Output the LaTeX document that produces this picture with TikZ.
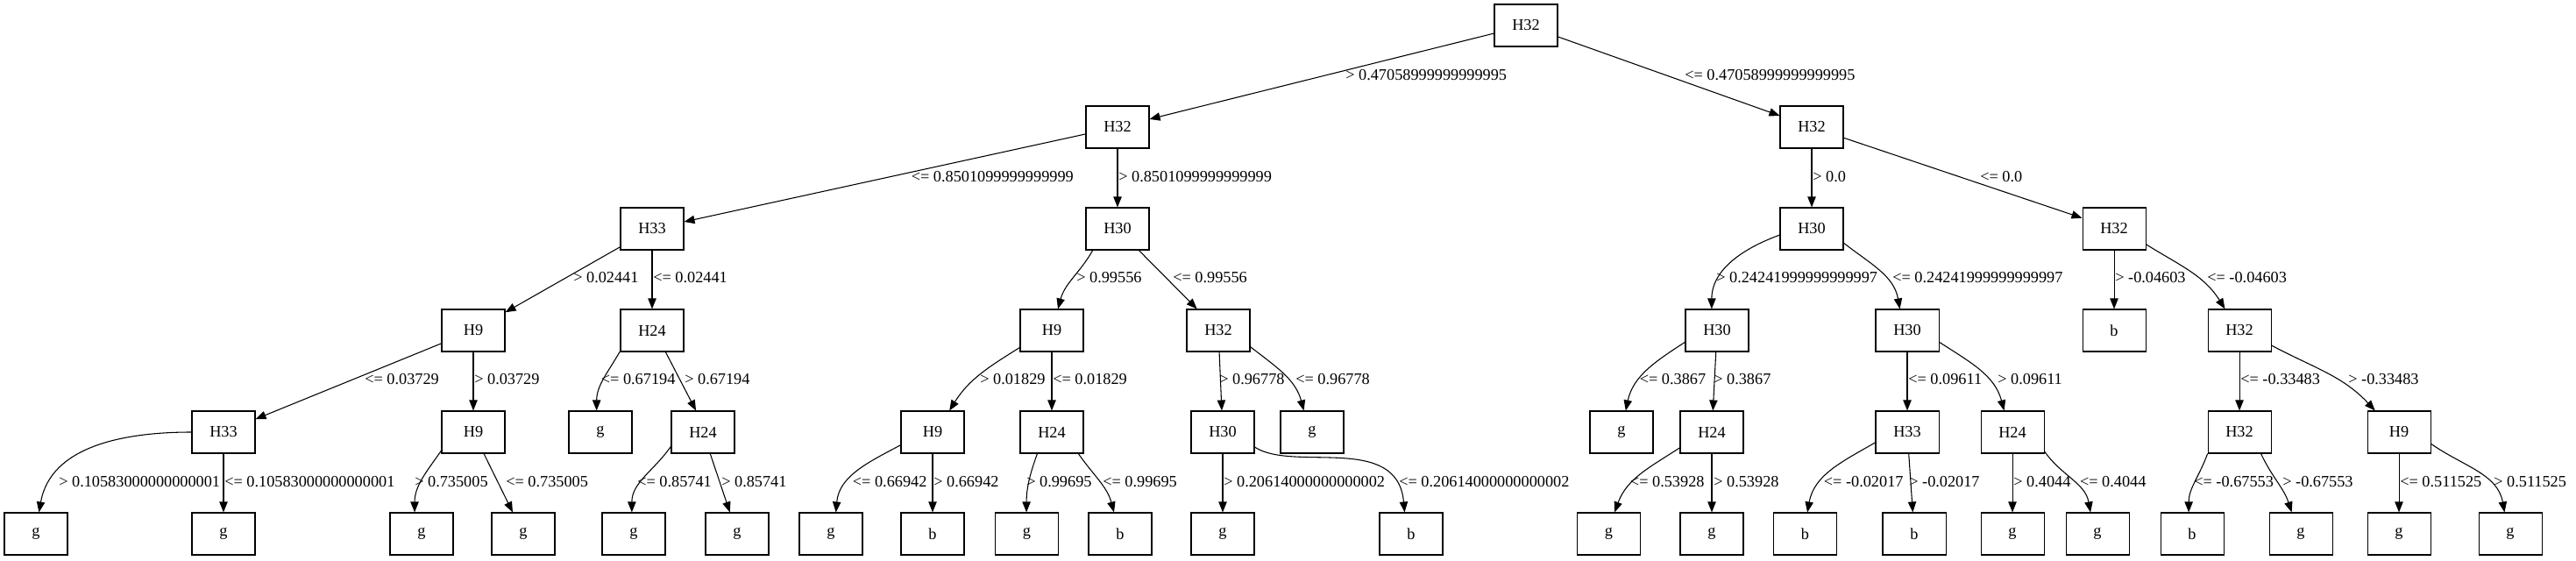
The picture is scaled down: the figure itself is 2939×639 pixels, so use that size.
\documentclass[tikz,border=0pt]{standalone}
\usepackage{fontspec}
\setmainfont{Liberation Serif}
\usepackage{tikz}
\usetikzlibrary{arrows.meta,positioning}

\begin{document}
\begin{tikzpicture}[
    x=0.75pt, y=0.75pt,
    font=\fontsize{13.7}{16}\selectfont,
    box/.style={draw, line width=0.8pt, minimum width=54pt, minimum height=36pt, inner sep=0pt},
    lbl/.style={anchor=base west, inner sep=0pt},
    edge/.style={line width=0.8pt, -{Triangle[length=9pt,width=7pt]}}
]
\useasboundingbox (0,0) rectangle (2939,639);

% level 0 and 1
\node[box] (root) at (1741,610) {H32};
\node[box] (l) at (1275,494) {H32};
\node[box] (r) at (2067,494) {H32};
% level 2
\node[box] (ll) at (744,378) {H33};
\node[box] (lr) at (1275,378) {H30};
\node[box] (rl) at (2067,378) {H30};
\node[box] (rr) at (2412,378) {H32};
% level 3
\node[box] (lll) at (540,262) {H9};
\node[box] (llr) at (744,262) {H24};
\node[box] (lrl) at (1200,262) {H9};
\node[box] (lrr) at (1390,262) {H32};
\node[box] (rll) at (1959,262) {H30};
\node[box] (rlr) at (2176,262) {H30};
\node[box] (rrl) at (2412,262) {b};
\node[box] (rrr) at (2555,262) {H32};
% level 4
\node[box] (llll) at (255,146) {H33};
\node[box] (lllr) at (540,146) {H9};
\node[box] (llrl) at (685,146) {g};
\node[box] (llrr) at (802,146) {H24};
\node[box] (lrll) at (1064,146) {H9};
\node[box] (lrlr) at (1200,146) {H24};
\node[box] (lrrl) at (1395,146) {H30};
\node[box] (lrrr) at (1497,146) {g};
\node[box] (rlll) at (1850,146) {g};
\node[box] (rllr) at (1953,146) {H24};
\node[box] (rlrl) at (2176,146) {H33};
\node[box] (rlrr) at (2296,146) {H24};
\node[box] (rrrl) at (2555,146) {H32};
\node[box] (rrrr) at (2737,146) {H9};
% level 5 (leaves)
\node[box] (lllll) at (41,30) {g};
\node[box] (llllr) at (255,30) {g};
\node[box] (lllrl) at (481,30) {g};
\node[box] (lllrr) at (597,30) {g};
\node[box] (llrrl) at (723,30) {g};
\node[box] (llrrr) at (841,30) {g};
\node[box] (lrlll) at (948,30) {g};
\node[box] (lrllr) at (1064,30) {b};
\node[box] (lrlrl) at (1171.5,30) {g};
\node[box] (lrlrr) at (1278,30) {b};
\node[box] (lrrll) at (1395,30) {g};
\node[box] (lrrlr) at (1610,30) {b};
\node[box] (rllrl) at (1835.5,30) {g};
\node[box] (rllrr) at (1953,30) {g};
\node[box] (rlrll) at (2059.5,30) {b};
\node[box] (rlrlr) at (2184,30) {b};
\node[box] (rlrrl) at (2296,30) {g};
\node[box] (rlrrr) at (2393,30) {g};
\node[box] (rrrll) at (2501,30) {b};
\node[box] (rrrlr) at (2625,30) {g};
\node[box] (rrrrl) at (2737,30) {g};
\node[box] (rrrrr) at (2864,30) {g};

% edge labels
\node[lbl] (l-t) at (1535,547) {> 0.47058999999999995};
\node[lbl] (r-t) at (1922,547) {<= 0.47058999999999995};
\node[lbl] (ll-t) at (1039.5,431) {<= 0.8501099999999999};
\node[lbl] (lr-t) at (1276,431) {> 0.8501099999999999};
\node[lbl] (rl-t) at (2068,431) {> 0.0};
\node[lbl] (rr-t) at (2259,431) {<= 0.0};
\node[lbl] (lll-t) at (654,316) {> 0.02441};
\node[lbl] (llr-t) at (745,316) {<= 0.02441};
\node[lbl] (lrl-t) at (1228,316) {> 0.99556};
\node[lbl] (lrr-t) at (1338,316) {<= 0.99556};
\node[lbl] (rll-t) at (1958,316) {> 0.24241999999999997};
\node[lbl] (rlr-t) at (2159,316) {<= 0.24241999999999997};
\node[lbl] (rrl-t) at (2413,316) {> -0.04603};
\node[lbl] (rrr-t) at (2518,316) {<= -0.04603};
\node[lbl] (llll-t) at (416,200) {<= 0.03729};
\node[lbl] (lllr-t) at (541,200) {> 0.03729};
\node[lbl] (llrl-t) at (685.6,200) {<= 0.67194};
\node[lbl] (llrr-t) at (781,200) {> 0.67194};
\node[lbl] (lrll-t) at (1118,200) {> 0.01829};
\node[lbl] (lrlr-t) at (1201,200) {<= 0.01829};
\node[lbl] (lrrl-t) at (1391,200) {> 0.96778};
\node[lbl] (lrrr-t) at (1478,200) {<= 0.96778};
\node[lbl] (rlll-t) at (1870.5,200) {<= 0.3867};
\node[lbl] (rllr-t) at (1955,200) {> 0.3867};
\node[lbl] (rlrl-t) at (2177,200) {<= 0.09611};
\node[lbl] (rlrr-t) at (2279,200) {> 0.09611};
\node[lbl] (rrrl-t) at (2556,200) {<= -0.33483};
\node[lbl] (rrrr-t) at (2679,200) {> -0.33483};
\node[lbl] (lllll-t) at (67,84) {> 0.10583000000000001};
\node[lbl] (llllr-t) at (256,84) {<= 0.10583000000000001};
\node[lbl] (lllrl-t) at (473,84) {> 0.735005};
\node[lbl] (lllrr-t) at (577,84) {<= 0.735005};
\node[lbl] (llrrl-t) at (727,84) {<= 0.85741};
\node[lbl] (llrrr-t) at (823,84) {> 0.85741};
\node[lbl] (lrlll-t) at (972.6,84) {<= 0.66942};
\node[lbl] (lrllr-t) at (1065,84) {> 0.66942};
\node[lbl] (lrlrl-t) at (1171,84) {> 0.99695};
\node[lbl] (lrlrr-t) at (1258,84) {<= 0.99695};
\node[lbl] (lrrll-t) at (1396,84) {> 0.20614000000000002};
\node[lbl] (lrrlr-t) at (1596,84) {<= 0.20614000000000002};
\node[lbl] (rllrl-t) at (1859.7,84) {<= 0.53928};
\node[lbl] (rllrr-t) at (1955,84) {> 0.53928};
\node[lbl] (rlrll-t) at (2080.6,84) {<= -0.02017};
\node[lbl] (rlrlr-t) at (2178,84) {> -0.02017};
\node[lbl] (rlrrl-t) at (2297,84) {> 0.4044};
\node[lbl] (rlrrr-t) at (2372.7,84) {<= 0.4044};
\node[lbl] (rrrll-t) at (2503,84) {<= -0.67553};
\node[lbl] (rrrlr-t) at (2604,84) {> -0.67553};
\node[lbl] (rrrrl-t) at (2738,84) {<= 0.511525};
\node[lbl] (rrrrr-t) at (2845,84) {> 0.511525};

% straight edges
\draw[edge] (root) -- (l);
\draw[edge] (root) -- (r);
\draw[edge] (l) -- (ll);
\draw[edge] (l) -- (lr);
\draw[edge] (r) -- (rl);
\draw[edge] (r) -- (rr);
\draw[edge] (ll) -- (lll);
\draw[edge] (ll) -- (llr);
\draw[edge] (lll) -- (llll);
\draw[edge] (lll) -- (lllr);
\draw[edge] (llll) -- (llllr);
\draw[edge] (lllr) -- (lllrr);
\draw[edge] (llr.302) -- (llrr.108);
\draw[edge] (llrr) -- (llrrr);
\draw[edge] (lr) -- (lrr);
\draw[edge] (lrl) -- (lrlr);
\draw[edge] (lrr) -- (lrrl);
\draw[edge] (lrll) -- (lrllr);
\draw[edge] (lrrl) -- (lrrll);
\draw[edge] (rll) -- (rllr);
\draw[edge] (rllr) -- (rllrr);
\draw[edge] (rlr) -- (rlrl);
\draw[edge] (rlrl) -- (rlrlr);
\draw[edge] (rlrr) -- (rlrrl);
\draw[edge] (rr) -- (rrl);
\draw[edge] (rrr) -- (rrrl);
\draw[edge] (rrrr) -- (rrrrl);

% curved edges
\draw[edge] (llll.180) to[out=180, in=80] (lllll.82);
\draw[edge] (lllr.210) to[out=235, in=90] (lllrl.108);
\draw[edge] (llr.213) to[out=240, in=90] (llrl.100);
\draw[edge] (llrr.204) to[out=235, in=90] (llrrl.95);
\draw[edge] (lr.221) to[out=240, in=75] (lrl.74);
\draw[edge] (lrl.208) to[out=212, in=58] (lrll.52);
\draw[edge] (lrlr.236) to[out=250, in=90] (lrlrl.91);
\draw[edge] (lrlr.321) to[out=305, in=105] (lrlrr.106);
\draw[edge] (lrr.333) to[out=322, in=105] (lrrr.111);
\draw[edge] (lrll.202) to[out=208, in=85] (lrlll.77);
\draw[edge] (lrrl.335) .. controls +(44,-29) and +(-8,91) .. (lrrlr.107);
\draw[edge] (rl.191) to[out=200, in=90] (rll.104);
\draw[edge] (rl.336) to[out=322, in=100] (rlr.109);
\draw[edge] (rr.334) to[out=328, in=122] (rrr.124);
\draw[edge] (rll.200) to[out=213, in=78] (rlll.79);
\draw[edge] (rlr.340) to[out=327, in=105] (rlrr.111);
\draw[edge] (rrr.335) to[out=332, in=133] (rrrr.138);
\draw[edge] (rllr.206) to[out=213, in=70] (rllrl.75);
\draw[edge] (rlrl.198) to[out=210, in=80] (rlrll.84);
\draw[edge] (rlrr.329) to[out=305, in=100] (rlrrr.108);
\draw[edge] (rrrl.214) to[out=250, in=90] (rrrll.99);
\draw[edge] (rrrl.315) to[out=295, in=108] (rrrlr.113);
\draw[edge] (rrrr.340) to[out=325, in=100] (rrrrr.105);
\end{tikzpicture}
\end{document}
